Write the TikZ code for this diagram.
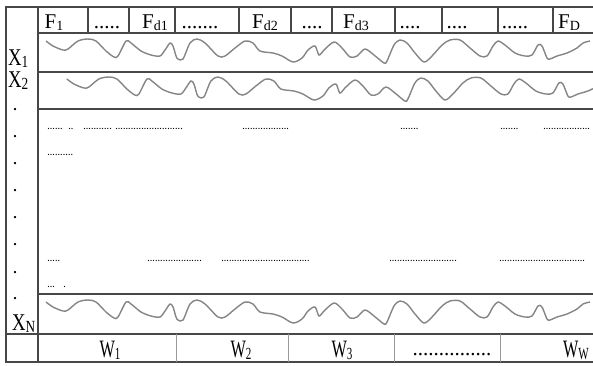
\documentclass[tikz,border=0pt]{standalone}
\usepackage{fontspec}
\setmainfont{Liberation Serif}
\usepackage{graphicx}
\usetikzlibrary{positioning}

% subscripted labels
\newcommand{\flab}[2]{#1\raisebox{-2.5pt}{\fontsize{14}{14}\selectfont #2}}
\newcommand{\tlab}[3][0.78]{\scalebox{#1}[1]{#2\raisebox{-2pt}{\fontsize{17}{17}\selectfont #3}}}
% a run of small dots of a given width
\newcommand{\dotrun}[1]{\hbox to #1pt{\leaders\hbox to 2.6pt{\hss.\hss}\hfill}}

\tikzset{
  grid line/.style={draw=black!72, line width=1.2pt},
  soft line/.style={draw=black!40, line width=1pt},
  signal/.style={draw=black!48, line width=1.4pt, smooth, tension=0.5},
  flabel/.style={anchor=base, inner sep=0pt, font=\fontsize{21}{21}\selectfont},
  xlabel/.style={anchor=base west, inner sep=0pt, font=\fontsize{24}{24}\selectfont},
  wlabel/.style={anchor=base, inner sep=0pt, font=\fontsize{25}{25}\selectfont},
  dotrow/.style={anchor=base west, inner sep=0pt, font=\fontsize{8}{8}\selectfont\bfseries},
  vdot/.style={anchor=base, inner sep=0pt, font=\fontsize{14}{14}\selectfont\bfseries},
  wave/.pic={
    \draw[signal] plot coordinates {
      (46,8) (53,13) (63,17) (68,16) (78,8) (88,6) (96,8) (106,18) (114,24) (118,23)
      (126,8) (131,10) (141,18) (151,22) (160,23) (165,17) (170,10) (173,13) (176,23)
      (178,26) (183,26) (190,10) (197,6) (205,10) (218,23) (225,23) (235,15) (245,8)
      (253,10) (260,18) (273,20) (282,23) (293,29) (302,25) (308,17) (315,13) (319,22)
      (324,17) (334,9) (342,15) (350,24) (357,23) (365,16) (374,22) (384,30) (387,28)
      (394,12) (400,7) (407,10) (415,20) (424,29) (432,23) (442,12) (450,7) (460,7)
      (470,15) (480,23) (487,23) (493,13) (498,8) (505,12) (515,20) (525,23) (532,22)
      (538,12) (542,13) (547,25) (550,26) (557,23) (567,20) (577,15) (583,10) (590,8)};
  }
}

\begin{document}
\begin{tikzpicture}[x=1pt, y=-1pt]
  \useasboundingbox (0,0) rectangle (593,365);

  % frame and rows
  \draw[grid line] (593,7) -- (6,7) -- (6,362) -- (593,362);
  \draw[grid line] (38,7) -- (38,362);
  \foreach \y in {33,72,109,294} {
    \draw[grid line] (38,\y) -- (593,\y);
  }
  \draw[grid line] (6,334) -- (593,334);

  % header cells
  \foreach \x in {88,129,175,239,291,332,395,442,498,553} {
    \draw[grid line] (\x,7) -- (\x,33);
  }
  \node[flabel] (f1)    at (54,28)  {\flab{F}{1}};
  \node[flabel] (fgap1) at (107,28) {.....};
  \node[flabel] (fd1)   at (155,28) {\flab{F}{d1}};
  \node[flabel] (fgap2) at (200,28) {.......};
  \node[flabel] (fd2)   at (265,28) {\flab{F}{d2}};
  \node[flabel] (fgap3) at (312,28) {....};
  \node[flabel] (fd3)   at (356,28) {\flab{F}{d3}};
  \node[flabel] (fgap4) at (410,28) {....};
  \node[flabel] (fgap5) at (457,28) {....};
  \node[flabel] (fgap6) at (515,28) {.....};
  \node[flabel] (fD)    at (569,28) {\flab{F}{D}};

  % series labels
  \node[xlabel] (x1) at (8,65)  {\tlab{X}{1}};
  \node[xlabel] (x2) at (8,87)  {\tlab{X}{2}};
  \node[xlabel] (xN) at (12,330) {\tlab{X}{N}};
  \foreach \y [count=\i] in {110,137,164,191,218,245,273,299} {
    \node[vdot] (vd\i) at (15,\y) {.};
  }

  % signals
  \pic at (0,33) {wave};
  \begin{scope}[shift={(20.9,71)}, xscale=0.936]
    \pic at (0,0) {wave};
  \end{scope}
  \pic at (0,294) {wave};

  % dotted rows in the middle
  \foreach \x/\w [count=\i] in {47/18, 68/7, 83/29, 115/68, 242/48, 400/20, 500/20, 543/47} {
    \node[dotrow] (ra\i) at (\x,129) {\dotrun{\w}};
  }
  \node[dotrow] (rb1) at (47,155) {\dotrun{28}};
  \foreach \x/\w [count=\i] in {47/15, 147/57, 221/91, 389/68, 499/88} {
    \node[dotrow] (rc\i) at (\x,261) {\dotrun{\w}};
  }
  \node[dotrow] (rd1) at (47,287) {\dotrun{8}};
  \node[dotrow] (rd2) at (63,287) {\dotrun{5}};

  % window cells
  \foreach \x in {176,288,394,500} {
    \draw[soft line] (\x,334) -- (\x,362);
  }
  \node[wlabel] (w1)   at (110,357) {\tlab[0.65]{W}{1}};
  \node[wlabel] (w2)   at (241,357) {\tlab[0.65]{W}{2}};
  \node[wlabel] (w3)   at (342,357) {\tlab[0.65]{W}{3}};
  \node[flabel] (wgap) at (452,355) {...............};
  \node[wlabel] (wW)   at (576,357) {\tlab[0.65]{W}{W}};
\end{tikzpicture}
\end{document}
